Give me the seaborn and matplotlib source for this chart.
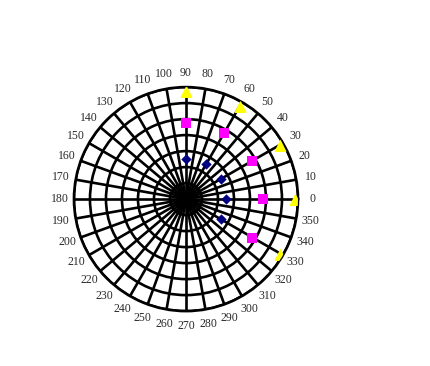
import numpy as np
import pandas as pd
import matplotlib
matplotlib.use("Agg")
import matplotlib.pyplot as plt
import seaborn as sns

# Data (angle in degrees, radius in grid units)
angles_deg = [90, 60, 30, 0, -30]
navy_r = [2.5, 2.5, 2.5, 2.5, 2.5]
magenta_r = [4.75, 4.8, 4.8, 4.8, 4.8]
yellow_r = [6.75, 6.75, 6.75, 6.8, 6.8]
series_names = ["A", "B", "C"]
theta_labels = [str(a) for a in range(0, 360, 10)]
r_ticks = [1, 2, 3, 4, 5, 6, 7]

sns.set_style("white")
plt.rcParams["font.family"] = ["Liberation Serif", "DejaVu Serif"]

fig = plt.figure(figsize=(4.30, 3.66), dpi=100)
ax = fig.add_axes([0.172, 0.150, 0.521, 0.612], projection="polar")

rows = []
for name, rs in zip(series_names, [navy_r, magenta_r, yellow_r]):
    for a, r in zip(angles_deg, rs):
        rows.append({"series": name, "theta": np.deg2rad(a), "r": r})
df = pd.DataFrame(rows)

styles = {
    "A": dict(color="#000080", marker="D", s=28),
    "B": dict(color="#FF00FF", marker="s", s=60),
    "C": dict(color="#FFFF00", marker="^", s=75),
}
for name in series_names:
    st = styles[name]
    sns.scatterplot(data=df[df["series"] == name], x="theta", y="r", ax=ax,
                    color=st["color"], marker=st["marker"], s=st["s"],
                    linewidth=0, legend=False, zorder=5)

ax.set_ylim(0, 7)
ax.set_yticks(r_ticks)
ax.set_yticklabels([])
ax.set_thetagrids(np.arange(0, 360, 10), theta_labels)
ax.tick_params(axis="x", labelsize=8.5, labelcolor="#2a2a2a", pad=0)
ax.grid(True, color="black", linewidth=1.9)
ax.spines["polar"].set_color("black")
ax.spines["polar"].set_linewidth(1.9)
ax.set_xlabel("")
ax.set_ylabel("")
ax.set_facecolor("white")

fig.savefig("out.png", dpi=100, facecolor="white")
